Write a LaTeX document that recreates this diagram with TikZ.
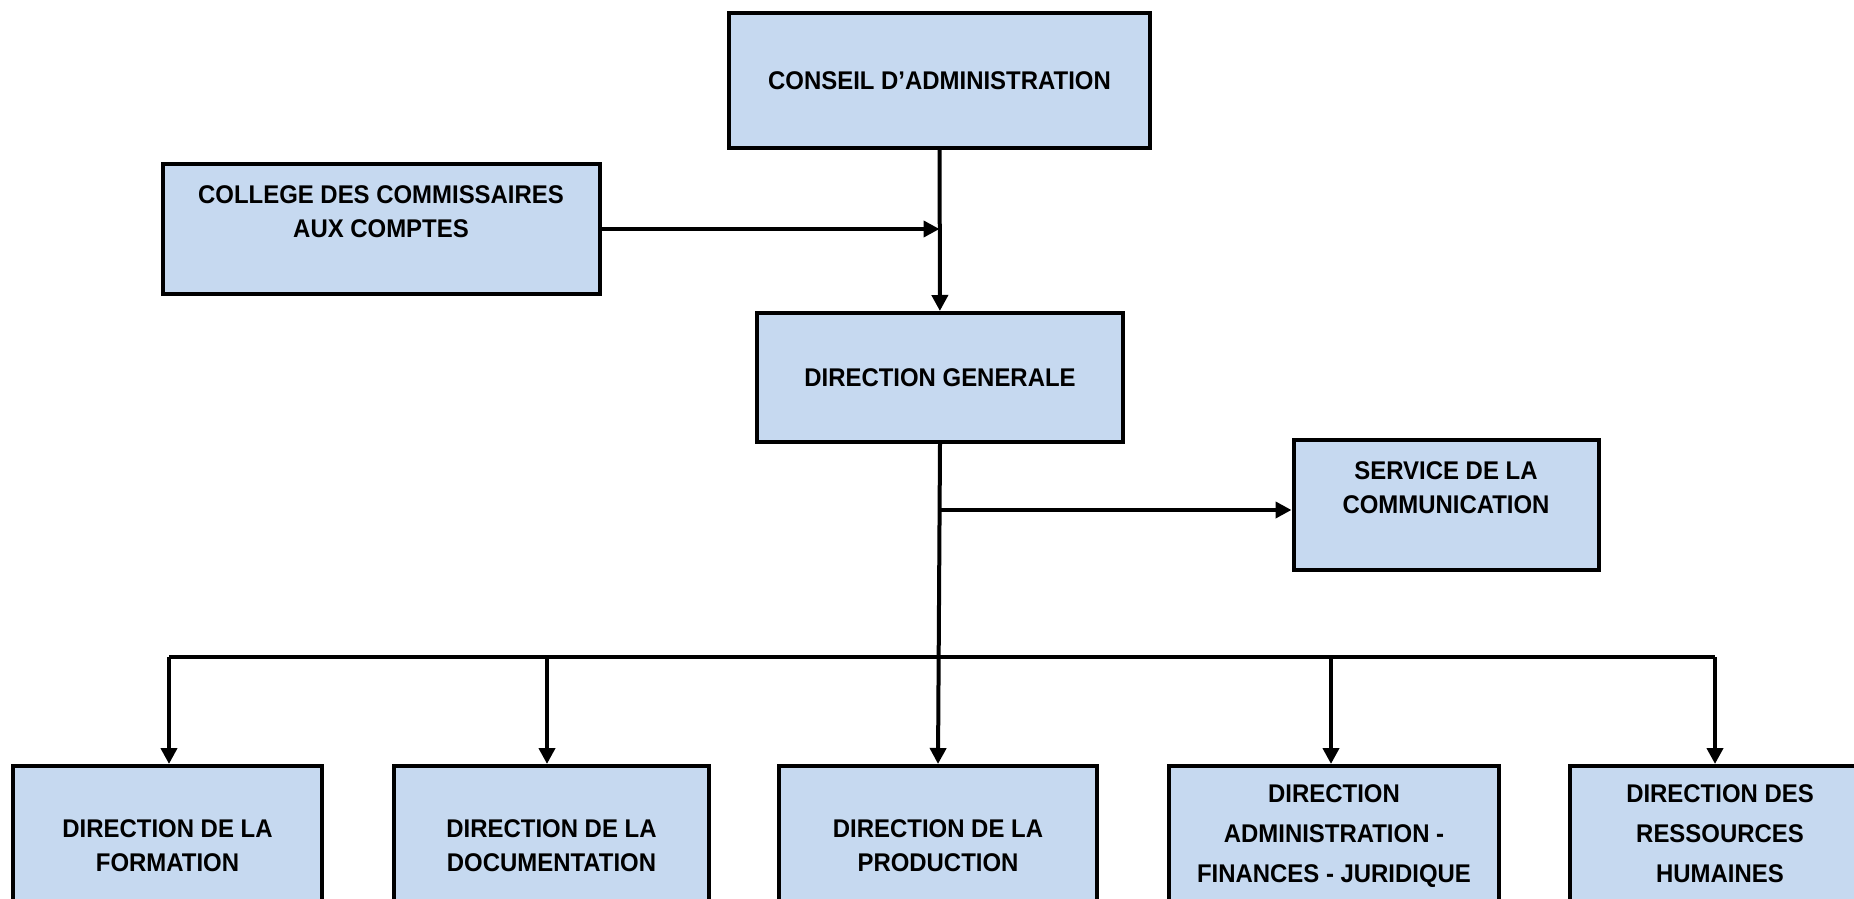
\documentclass[tikz,border=0pt]{standalone}
\usepackage{fontspec}
\setmainfont{Liberation Sans}[FakeStretch=0.935]
\usetikzlibrary{arrows.meta}
\definecolor{boxblue}{HTML}{C6D9F0}
\tikzset{
    every node/.style={draw, line width=2pt, fill=boxblue, align=center,
    	inner sep=0pt, font=\fontsize{12.8}{17}\selectfont\bfseries},
    tall/.style={font=\fontsize{12.8}{19.8}\selectfont\bfseries},
    link/.style={line width=2pt, -{Triangle[length=8pt, width=8pt]}}
}

\begin{document}
\begin{tikzpicture}[x=0.5pt, y=-0.5pt]
  \clip (0, 0) rectangle (1854, 899);

  \node (ca) [minimum width=210.5pt, minimum height=67.5pt] at (939.5, 80.5) {CONSEIL D’ADMINISTRATION};
  \node (ccc) [minimum width=218.5pt, minimum height=64.5pt] at (381, 229) {COLLEGE DES COMMISSAIRES\\AUX COMPTES\\\mbox{}};
  \node (dg) [minimum width=183pt, minimum height=64.5pt] at (940, 377.5) {DIRECTION GENERALE};
  \node (sc) [minimum width=152.5pt, minimum height=65pt] at (1446, 505) {SERVICE DE LA\\COMMUNICATION\\\mbox{}};

  \node (df) [anchor=north, minimum width=154.5pt, minimum height=79.5pt] at (167.5, 764) {DIRECTION DE LA\\FORMATION};
  \node (dd) [anchor=north, minimum width=157.5pt, minimum height=79.5pt] at (551.5, 764) {DIRECTION DE LA\\DOCUMENTATION};
  \node (dp) [anchor=north, minimum width=159pt, minimum height=79.5pt] at (938, 764) {DIRECTION DE LA\\PRODUCTION};
  \node (dafj) [anchor=north, tall, minimum width=165pt, minimum height=87.3pt] at (1334, 764) {DIRECTION\\ADMINISTRATION -\\FINANCES - JURIDIQUE\\\mbox{}};
  \node (drh) [anchor=north, tall, minimum width=150pt, minimum height=87.3pt] at (1720, 764) {DIRECTION DES\\RESSOURCES\\HUMAINES\\\mbox{}};

  \coordinate (bus) at (938, 657);

  \draw (ca) edge [link] (dg);
  \draw [link] (ccc.east) -- (ccc.east -| ca.south);
  \draw [link] (dg.south) -- (dp.north);
  \draw [link] ([yshift=-2.5pt]sc.west -| dg.south) -- ([yshift=-2.5pt]sc.west);
  \draw [line width=2pt] ([xshift=0.75pt]df.north |- bus) -- ([xshift=-2.5pt]drh.north |- bus);
  \foreach \d/\s in {df/0.75, dd/-2.25, dafj/-1.5, drh/-2.5}
    \draw [link] ([xshift=\s pt]\d.north |- bus) -- ([xshift=\s pt]\d.north);
\end{tikzpicture}
\end{document}
